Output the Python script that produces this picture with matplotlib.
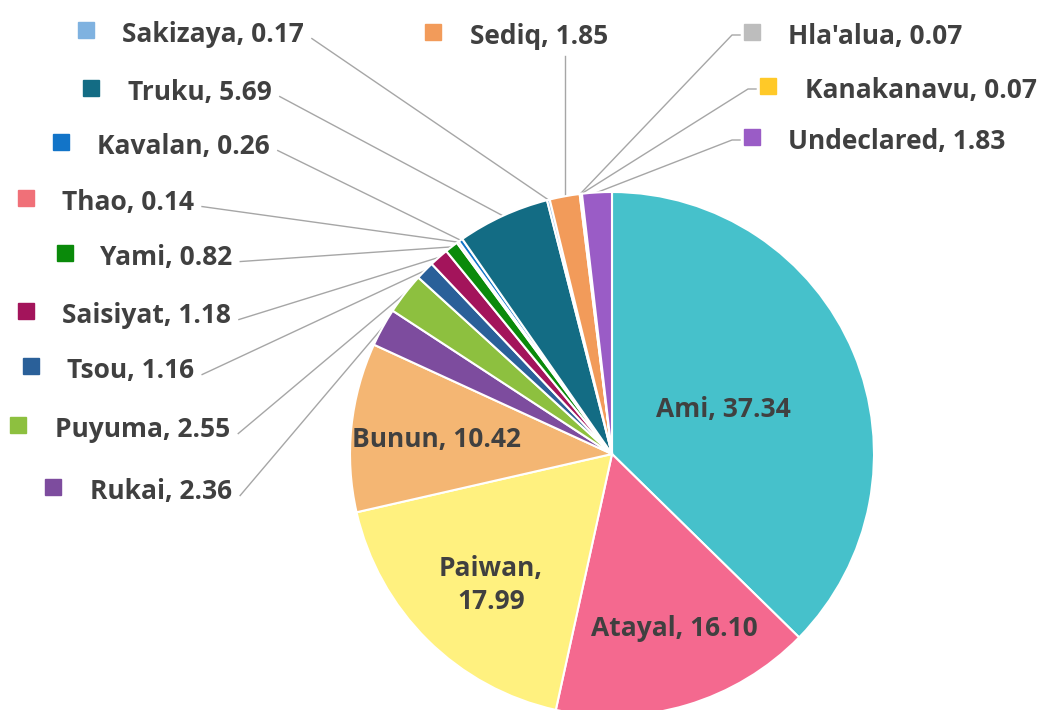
import numpy as np
import matplotlib.pyplot as plt

# data
groups = ["Ami", "Atayal", "Paiwan", "Bunun", "Rukai", "Puyuma", "Tsou", "Saisiyat",
          "Yami", "Thao", "Kavalan", "Truku", "Sakizaya", "Sediq", "Hla'alua",
          "Kanakanavu", "Undeclared"]
shares = [37.34, 16.10, 17.99, 10.42, 2.36, 2.55, 1.16, 1.18,
          0.82, 0.14, 0.26, 5.69, 0.17, 1.85, 0.07, 0.07, 1.83]
colors = ["#46C1CB", "#F4698F", "#FFF17F", "#F4B673", "#7D4C9E", "#8DC03F", "#2A6099", "#A3145B",
          "#0A8A0A", "#F07078", "#1274C8", "#136C84", "#7FB2E0", "#F29B5A", "#BDBDBD",
          "#FFC928", "#9A5CC6"]

W, H = 1043, 710
CX, CY, R = 612, 454, 262
TXT = "#404040"
LINE = "#A6A6A6"
FONT = "Open Sans"
FS = 19

# label layout in pixel coords (top origin): marker centre x, marker centre y, text x, leader style
outside = {
    "Sakizaya": (86, 30, 122, "left"),
    "Sediq": (433, 32, 470, "top"),
    "Hla'alua": (752, 32, 788, "right"),
    "Kanakanavu": (768, 86, 805, "right"),
    "Undeclared": (752, 137, 788, "right"),
    "Truku": (91, 88, 128, "left"),
    "Kavalan": (61, 142, 97, "left"),
    "Thao": (26, 198, 62, "left"),
    "Yami": (65, 253, 100, "left"),
    "Saisiyat": (26, 311, 62, "left"),
    "Tsou": (31, 366, 67, "left"),
    "Puyuma": (18, 425, 55, "left"),
    "Rukai": (53, 487, 90, "left"),
}
inside = {
    "Ami": (723, 410),
    "Bunun": (437, 440),
    "Paiwan": (491, 585),
    "Atayal": (674, 628),
}

fig = plt.figure(figsize=(W / 100, H / 100), dpi=100)
ax = fig.add_axes([0, 0, 1, 1])
wedges, _ = ax.pie(shares, colors=colors, startangle=90, counterclock=False,
                   center=(CX, H - CY), radius=R,
                   wedgeprops=dict(edgecolor="white", linewidth=1.5))
ax.set_xlim(0, W)
ax.set_ylim(0, H)
ax.set_aspect("equal")
ax.axis("off")

fmt = lambda v: "%.2f" % v

texts = {}
for name, val, col, w in zip(groups, shares, colors, wedges):
    if name in inside:
        x, y = inside[name]
        lab = "%s,\n%s" % (name, fmt(val)) if name == "Paiwan" else "%s, %s" % (name, fmt(val))
        ax.text(x, H - y, lab, ha="center", va="center", fontsize=FS, fontweight="bold",
                family=FONT, color=TXT, linespacing=1.3)
        continue
    mx, my, tx, style = outside[name]
    ax.plot(mx, H - my, marker="s", markersize=12, color=col, linestyle="none")
    t = ax.text(tx, H - my - 12, "%s, %s" % (name, fmt(val)), ha="left", va="baseline",
                fontsize=FS, fontweight="bold", family=FONT, color=TXT)
    texts[name] = (t, w, style, mx, my)

fig.canvas.draw()
for name, (t, w, style, mx, my) in texts.items():
    bb = t.get_window_extent()
    ang = np.deg2rad((w.theta1 + w.theta2) / 2)
    ax_, ay_ = CX + R * np.cos(ang), (H - CY) + R * np.sin(ang)
    if style == "left":
        xs = [bb.x1 + 8, ax_]
        ys = [bb.y0 + 0.35 * bb.height, ay_]
    elif style == "right":
        xs = [ax_, mx - 20, mx - 12]
        ys = [ay_, H - my - 3, H - my - 3]
    else:
        xs = [ax_, ax_]
        ys = [ay_, bb.y0 - 6]
    ax.plot(xs, ys, color=LINE, lw=1, zorder=0.5)

fig.savefig("out.png", dpi=100, facecolor="white")
